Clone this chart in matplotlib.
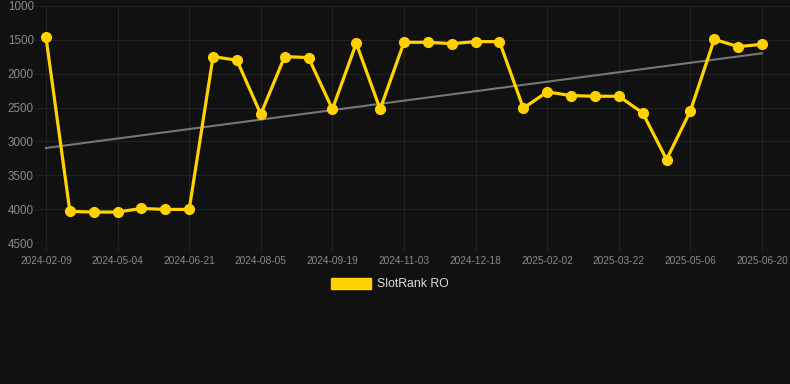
import matplotlib.pyplot as plt
import numpy as np

# rank per check date (lower is better, axis inverted)
dates = ['2024-02-09', '', '', '2024-05-04', '', '', '2024-06-21', '', '', '2024-08-05', '', '',
         '2024-09-19', '', '', '2024-11-03', '', '', '2024-12-18', '', '', '2025-02-02', '', '',
         '2025-03-22', '', '', '2025-05-06', '', '', '2025-06-20']
ranks = [1462, 4034, 4043, 4043, 3990, 4004, 4004, 1747, 1801, 2598, 1747, 1762, 2524, 1551, 2524,
         1536, 1536, 1556, 1526, 1526, 2509, 2269, 2323, 2333, 2333, 2578, 3267, 2549, 1492, 1600, 1566]
yticks = [1000, 1500, 2000, 2500, 3000, 3500, 4000, 4500]

bg = '#111111'
gold = '#ffd200'
gridc = '#222222'

plt.rcParams['font.family'] = ['Liberation Sans', 'DejaVu Sans']

fig = plt.figure(figsize=(7.9, 3.84), dpi=100, facecolor=bg)
ax = fig.add_axes([38/790, 1-243/384, 1-38/790, (243-6)/384])
ax.set_facecolor(bg)

x = np.arange(len(ranks))
k, b = np.polyfit(x, ranks, 1)
ax.plot(x, k*x + b, color='#777777', lw=1.5, zorder=2)
ax.plot(x, ranks, color=gold, lw=2.3, marker='o', ms=7, zorder=3, label='SlotRank RO')

ax.set_xlim(-8/23.87, 30 + 28/23.87)
ax.set_ylim(4500, 1000)
ax.set_yticks(yticks)
ax.set_xticks([i for i in x if dates[i]])
ax.set_xticklabels([d for d in dates if d])

ax.grid(True, color=gridc, lw=0.8)
for s in ax.spines.values():
    s.set_visible(False)
ax.tick_params(axis='x', colors=gridc, length=6, width=0.8, pad=3.5, labelsize=7.3, labelcolor='#8a8a8a')
ax.tick_params(axis='y', colors=gridc, length=2, width=0.8, pad=1, labelsize=8.4, labelcolor='#8a8a8a')

leg = fig.legend(handles=[plt.Rectangle((0, 0), 1, 1, color=gold)], labels=['SlotRank RO'],
                 loc='center', bbox_to_anchor=(390/790, 1-284/384), frameon=False,
                 handlelength=3.3, handleheight=1.0, handletextpad=0.5, fontsize=8.8)
for t in leg.get_texts():
    t.set_color('#dddddd')

fig.savefig('out.png', dpi=100, facecolor=bg)
